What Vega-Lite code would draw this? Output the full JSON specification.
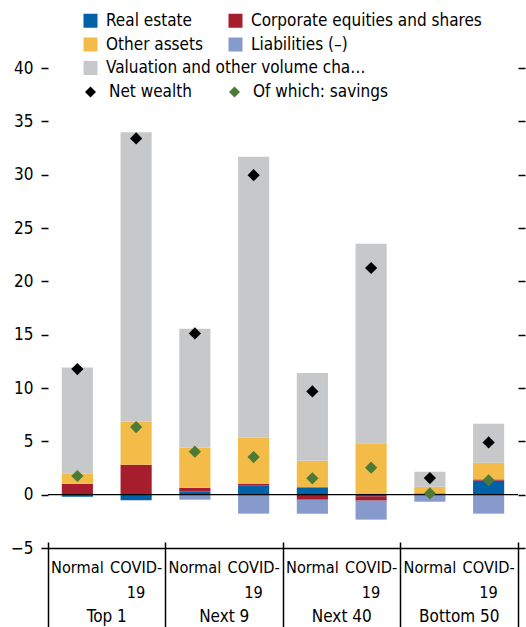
{
  "$schema": "https://vega.github.io/schema/vega-lite/v6.json",
  "width": 470,
  "height": 480,
  "autosize": "none",
  "padding": {"left": 48, "top": 68, "right": 8, "bottom": 79},
  "background": "#ffffff",
  "config": {
    "font": "DejaVu Sans Condensed, Liberation Sans",
    "view": {"stroke": null},
    "axis": {"labelFont": "DejaVu Sans Condensed, Liberation Sans", "labelFontSize": 17, "labelColor": "#000000", "tickColor": "#000000", "domainColor": "#000000", "grid": false},
    "legend": {"labelFont": "DejaVu Sans Condensed, Liberation Sans", "labelFontSize": 17, "labelColor": "#000000", "padding": 0}
  },
  "datasets": {
    "bars": [
      {"key": "Top 1|Normal", "category": "Real estate", "order": 1, "value": -0.19},
      {"key": "Top 1|Normal", "category": "Corporate equities and shares", "order": 2, "value": 1.03},
      {"key": "Top 1|Normal", "category": "Other assets", "order": 3, "value": 0.94},
      {"key": "Top 1|Normal", "category": "Valuation and other volume changes", "order": 5, "value": 9.96},
      {"key": "Top 1|COVID-19", "category": "Real estate", "order": 1, "value": -0.53},
      {"key": "Top 1|COVID-19", "category": "Corporate equities and shares", "order": 2, "value": 2.81},
      {"key": "Top 1|COVID-19", "category": "Other assets", "order": 3, "value": 4.06},
      {"key": "Top 1|COVID-19", "category": "Valuation and other volume changes", "order": 5, "value": 27.1},
      {"key": "Next 9|Normal", "category": "Real estate", "order": 1, "value": 0.31},
      {"key": "Next 9|Normal", "category": "Corporate equities and shares", "order": 2, "value": 0.34},
      {"key": "Next 9|Normal", "category": "Other assets", "order": 3, "value": 3.78},
      {"key": "Next 9|Normal", "category": "Liabilities (–)", "order": 4, "value": -0.47},
      {"key": "Next 9|Normal", "category": "Valuation and other volume changes", "order": 5, "value": 11.12},
      {"key": "Next 9|COVID-19", "category": "Real estate", "order": 1, "value": 0.88},
      {"key": "Next 9|COVID-19", "category": "Corporate equities and shares", "order": 2, "value": 0.15},
      {"key": "Next 9|COVID-19", "category": "Other assets", "order": 3, "value": 4.34},
      {"key": "Next 9|COVID-19", "category": "Liabilities (–)", "order": 4, "value": -1.78},
      {"key": "Next 9|COVID-19", "category": "Valuation and other volume changes", "order": 5, "value": 26.31},
      {"key": "Next 40|Normal", "category": "Real estate", "order": 1, "value": 0.69},
      {"key": "Next 40|Normal", "category": "Corporate equities and shares", "order": 2, "value": -0.47},
      {"key": "Next 40|Normal", "category": "Other assets", "order": 3, "value": 2.5},
      {"key": "Next 40|Normal", "category": "Liabilities (–)", "order": 4, "value": -1.31},
      {"key": "Next 40|Normal", "category": "Valuation and other volume changes", "order": 5, "value": 8.21},
      {"key": "Next 40|COVID-19", "category": "Real estate", "order": 1, "value": -0.15},
      {"key": "Next 40|COVID-19", "category": "Corporate equities and shares", "order": 2, "value": -0.41},
      {"key": "Next 40|COVID-19", "category": "Other assets", "order": 3, "value": 4.81},
      {"key": "Next 40|COVID-19", "category": "Liabilities (–)", "order": 4, "value": -1.78},
      {"key": "Next 40|COVID-19", "category": "Valuation and other volume changes", "order": 5, "value": 18.71},
      {"key": "Bottom 50|Normal", "category": "Real estate", "order": 1, "value": 0.12},
      {"key": "Bottom 50|Normal", "category": "Other assets", "order": 3, "value": 0.62},
      {"key": "Bottom 50|Normal", "category": "Liabilities (–)", "order": 4, "value": -0.66},
      {"key": "Bottom 50|Normal", "category": "Valuation and other volume changes", "order": 5, "value": 1.41},
      {"key": "Bottom 50|COVID-19", "category": "Real estate", "order": 1, "value": 1.31},
      {"key": "Bottom 50|COVID-19", "category": "Corporate equities and shares", "order": 2, "value": 0.12},
      {"key": "Bottom 50|COVID-19", "category": "Other assets", "order": 3, "value": 1.56},
      {"key": "Bottom 50|COVID-19", "category": "Liabilities (–)", "order": 4, "value": -1.78},
      {"key": "Bottom 50|COVID-19", "category": "Valuation and other volume changes", "order": 5, "value": 3.66}
    ],
    "points": [
      {"key": "Top 1|Normal", "measure": "Net wealth", "value": 11.78},
      {"key": "Top 1|COVID-19", "measure": "Net wealth", "value": 33.4},
      {"key": "Next 9|Normal", "measure": "Net wealth", "value": 15.12},
      {"key": "Next 9|COVID-19", "measure": "Net wealth", "value": 29.95},
      {"key": "Next 40|Normal", "measure": "Net wealth", "value": 9.68},
      {"key": "Next 40|COVID-19", "measure": "Net wealth", "value": 21.25},
      {"key": "Bottom 50|Normal", "measure": "Net wealth", "value": 1.56},
      {"key": "Bottom 50|COVID-19", "measure": "Net wealth", "value": 4.9},
      {"key": "Top 1|Normal", "measure": "Of which: savings", "value": 1.75},
      {"key": "Top 1|COVID-19", "measure": "Of which: savings", "value": 6.34},
      {"key": "Next 9|Normal", "measure": "Of which: savings", "value": 4.03},
      {"key": "Next 9|COVID-19", "measure": "Of which: savings", "value": 3.53},
      {"key": "Next 40|Normal", "measure": "Of which: savings", "value": 1.53},
      {"key": "Next 40|COVID-19", "measure": "Of which: savings", "value": 2.53},
      {"key": "Bottom 50|Normal", "measure": "Of which: savings", "value": 0.12},
      {"key": "Bottom 50|COVID-19", "measure": "Of which: savings", "value": 1.34}
    ]
  },
  "resolve": {
    "scale": {"color": "independent"},
    "legend": {"color": "independent"},
    "axis": {"x": "independent", "y": "independent"}
  },
  "layer": [
    {
      "data": {"name": "bars"},
      "transform": [
        {"stack": "value", "groupby": ["key"], "sort": [{"field": "order", "order": "ascending"}], "as": ["y0", "y1"]},
        {"filter": "datum.order < 5"}
      ],
      "mark": {"type": "bar", "width": {"band": 0.53}},
      "encoding": {
        "x": {
          "field": "key", "type": "nominal", "sort": null,
          "scale": {"domain": ["Top 1|Normal", "Top 1|COVID-19", "Next 9|Normal", "Next 9|COVID-19", "Next 40|Normal", "Next 40|COVID-19", "Bottom 50|Normal", "Bottom 50|COVID-19"], "paddingInner": 0, "paddingOuter": 0},
          "axis": {"orient": "bottom", "title": null, "domain": true, "domainWidth": 1.6, "ticks": false, "tickSize": 0, "labelFontSize": 16.2, "labelPadding": 24.5, "labelBaseline": "alphabetic", "labelAngle": 0, "labelLineHeight": 24.5, "labelOverlap": false, "labelExpr": "indexof(datum.value, 'COVID') >= 0 ? ['COVID-', '19'] : 'Normal'"}
        },
        "y": {
          "field": "y0", "type": "quantitative",
          "scale": {"domain": [-5, 40], "nice": false, "zero": false},
          "axis": {"orient": "left", "title": null, "values": [-5, 0, 5, 10, 15, 20, 25, 30, 35, 40], "domain": false, "ticks": true, "tickSize": 7, "tickWidth": 1.5, "labelPadding": 8}
        },
        "y2": {"field": "y1"},
        "color": {
          "field": "category", "type": "nominal",
          "scale": {"domain": ["Real estate", "Corporate equities and shares", "Other assets", "Liabilities (–)"], "range": ["#0060A8", "#A61D2D", "#F3BB47", "#869BCB"]},
          "legend": {"orient": "none", "direction": "horizontal", "legendX": 34, "legendY": -56, "columns": 2, "title": null, "symbolType": "square", "symbolSize": 196, "symbolStrokeWidth": 0, "labelOffset": 7, "columnPadding": 24, "rowPadding": 6, "labelLimit": 400}
        }
      }
    },
    {
      "data": {"name": "bars"},
      "transform": [
        {"stack": "value", "groupby": ["key"], "sort": [{"field": "order", "order": "ascending"}], "as": ["y0", "y1"]},
        {"filter": "datum.order == 5"}
      ],
      "mark": {"type": "bar", "width": {"band": 0.53}},
      "encoding": {
        "x": {
          "field": "key", "type": "nominal", "sort": null,
          "scale": {"domain": ["Top 1|Normal", "Top 1|COVID-19", "Next 9|Normal", "Next 9|COVID-19", "Next 40|Normal", "Next 40|COVID-19", "Bottom 50|Normal", "Bottom 50|COVID-19"], "paddingInner": 0, "paddingOuter": 0},
          "axis": {"orient": "bottom", "title": null, "domain": false, "ticks": false, "tickSize": 0, "labelOffset": -29.375, "labelPadding": 73, "labelBaseline": "alphabetic", "labelAngle": 0, "labelOverlap": false, "labelFlush": false, "labelBound": false, "labelExpr": "indexof(datum.value, 'COVID') >= 0 ? split(datum.value, '|')[0] : ''"}
        },
        "y": {
          "field": "y0", "type": "quantitative",
          "scale": {"domain": [-5, 40], "nice": false, "zero": false},
          "axis": {"orient": "right", "title": null, "values": [-5, 0, 5, 10, 15, 20, 25, 30, 35, 40], "domain": false, "labels": false, "ticks": true, "tickSize": 7, "tickWidth": 1.5}
        },
        "y2": {"field": "y1"},
        "color": {
          "field": "category", "type": "nominal",
          "scale": {"domain": ["Valuation and other volume changes"], "range": ["#C7C8CA"]},
          "legend": {"orient": "none", "legendX": 34, "legendY": -8.5, "title": null, "symbolType": "square", "symbolSize": 196, "symbolStrokeWidth": 0, "labelOffset": 7, "labelLimit": 262}
        }
      }
    },
    {
      "data": {"values": [{"level": 0}]},
      "mark": {"type": "rule", "color": "#000000", "strokeWidth": 1.3},
      "encoding": {"y": {"field": "level", "type": "quantitative", "axis": null}}
    },
    {
      "data": {"name": "points"},
      "transform": [{"filter": "datum.measure == 'Net wealth'"}],
      "mark": {"type": "point", "shape": "diamond", "filled": true, "size": 150, "opacity": 1},
      "encoding": {
        "x": {
          "field": "key", "type": "nominal", "sort": null,
          "scale": {"domain": ["Top 1|Normal", "Top 1|COVID-19", "Next 9|Normal", "Next 9|COVID-19", "Next 40|Normal", "Next 40|COVID-19", "Bottom 50|Normal", "Bottom 50|COVID-19"], "paddingInner": 0, "paddingOuter": 0},
          "axis": {"orient": "bottom", "title": null, "domain": false, "labels": false, "ticks": true, "tickSize": 86, "tickWidth": 1.5, "tickColor": "#000000", "bandPosition": 0, "offset": -6, "values": ["Top 1|Normal", "Next 9|Normal", "Next 40|Normal", "Bottom 50|Normal"]}
        },
        "y": {"field": "value", "type": "quantitative", "axis": null},
        "color": {
          "field": "measure", "type": "nominal",
          "scale": {"domain": ["Net wealth"], "range": ["#000000"]},
          "legend": {"orient": "none", "legendX": 34, "legendY": 15.5, "title": null, "symbolType": "diamond", "symbolSize": 121, "symbolStrokeWidth": 0, "symbolOpacity": 1, "labelOffset": 10}
        }
      }
    },
    {
      "data": {"name": "points"},
      "transform": [{"filter": "datum.measure == 'Of which: savings'"}],
      "mark": {"type": "point", "shape": "diamond", "filled": true, "size": 150, "opacity": 1},
      "encoding": {
        "x": {
          "field": "key", "type": "nominal", "sort": null,
          "scale": {"domain": ["Top 1|Normal", "Top 1|COVID-19", "Next 9|Normal", "Next 9|COVID-19", "Next 40|Normal", "Next 40|COVID-19", "Bottom 50|Normal", "Bottom 50|COVID-19"], "paddingInner": 0, "paddingOuter": 0},
          "axis": {"orient": "bottom", "title": null, "domain": false, "labels": false, "ticks": true, "tickSize": 86, "tickWidth": 1.5, "tickColor": "#000000", "bandPosition": 1, "offset": -6, "values": ["Bottom 50|COVID-19"]}
        },
        "y": {"field": "value", "type": "quantitative", "axis": null},
        "color": {
          "field": "measure", "type": "nominal",
          "scale": {"domain": ["Of which: savings"], "range": ["#4B7B36"]},
          "legend": {"orient": "none", "legendX": 178, "legendY": 15.5, "title": null, "symbolType": "diamond", "symbolSize": 121, "symbolStrokeWidth": 0, "symbolOpacity": 1, "labelOffset": 10}
        }
      }
    }
  ]
}
